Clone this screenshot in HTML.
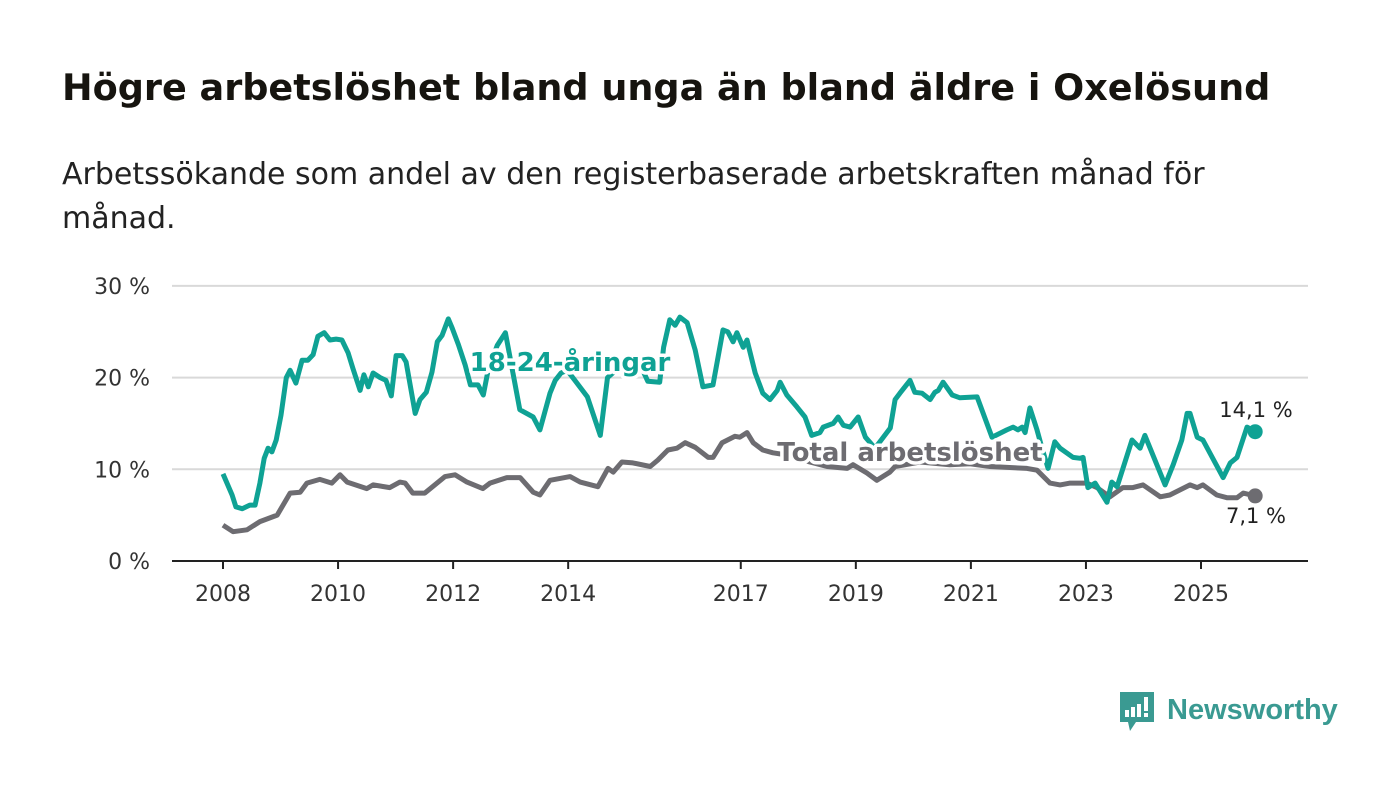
<!DOCTYPE html>
<html><head><meta charset="utf-8"><style>
html,body{margin:0;padding:0;background:#fff;width:1400px;height:794px;overflow:hidden;font-family:"Liberation Sans","DejaVu Sans",sans-serif;}
h1{position:absolute;left:62px;top:66px;margin:0;font-size:36.6px;font-weight:bold;color:#16140f;font-family:"DejaVu Sans","Liberation Sans",sans-serif;}
.sub{position:absolute;left:62px;top:153px;width:1200px;margin:0;font-size:30px;line-height:44px;color:#222;font-family:"DejaVu Sans","Liberation Sans",sans-serif;}
svg{position:absolute;left:0;top:0;}
</style></head><body>
<h1>Högre arbetslöshet bland unga än bland äldre i Oxelösund</h1>
<p class="sub">Arbetssökande som andel av den registerbaserade arbetskraften månad för månad.</p>
<svg id="chart" width="1400" height="794"></svg>
<svg width="1400" height="794">
  <path d="M1120 692 h34 v30 h-18 l-6 9 l-2 -9 h-8 z" fill="#3a9a92"/>
  <rect x="1125" y="710" width="4" height="7" fill="#fff"/><rect x="1131" y="707" width="4" height="10" fill="#fff"/><rect x="1137" y="704" width="4" height="13" fill="#fff"/><rect x="1144" y="697" width="4" height="14" fill="#fff"/><rect x="1144" y="713" width="4" height="4" fill="#fff"/>
  <text x="1167" y="719" font-size="29" font-weight="bold" font-family="Liberation Sans, sans-serif" fill="#3a9a92">Newsworthy</text>
</svg>
<script>
// months since Jan 2008
const youthMonths=[0,1.9,2.7,4.0,5.6,6.7,7.7,8.6,9.4,10.2,11.1,12.1,13.2,14.0,15.2,16.5,17.7,18.8,19.8,21.1,22.3,23.6,24.8,26.1,27.1,28.6,29.4,30.3,31.3,32.8,34.0,35.1,36.1,37.4,38.2,40.1,41.1,42.4,43.6,44.7,45.7,47.0,47.8,49.1,50.5,51.6,53.2,54.3,55.3,57.2,58.9,60.3,61.9,64.7,66.1,68.2,69.3,70.5,71.8,73.4,76.0,78.7,80.2,81.3,84.4,86.5,88.6,91.1,91.9,93.2,94.3,95.3,96.8,98.5,100.1,102.2,104.3,105.3,106.4,107.2,108.5,109.3,111.0,112.6,114.1,115.6,116.2,117.6,119.7,121.4,122.8,124.5,125.2,127.3,128.3,129.4,130.8,132.5,134.0,136.0,139.2,140.2,141.2,143.3,144.3,145.8,147.5,148.5,149.2,150.2,152.1,153.7,157.3,160.4,163.5,164.8,165.8,166.7,167.3,168.3,169.8,171.0,172.1,173.5,174.6,177.3,178.8,179.4,180.4,181.9,184.4,185.4,186.5,189.6,191.3,192.3,196.5,198.2,200.0,201.1,201.7,203.2,204.4,208.6,210.1,211.5,213.6,215.3];
const youthValues=[9.5,7.2,5.9,5.7,6.1,6.1,8.5,11.2,12.3,11.9,13.2,15.9,20.0,20.8,19.4,21.9,21.9,22.5,24.5,24.9,24.1,24.2,24.1,22.7,21.0,18.6,20.3,19.0,20.5,20.0,19.7,18.0,22.4,22.4,21.7,16.1,17.6,18.4,20.6,23.9,24.6,26.4,25.4,23.6,21.4,19.2,19.2,18.1,20.8,23.5,24.9,21.0,16.5,15.7,14.3,18.3,19.7,20.5,20.8,19.7,17.9,13.7,20.0,20.5,21.5,22.0,19.6,19.5,23.3,26.3,25.7,26.6,26.0,23.0,19.0,19.2,25.2,25.0,23.9,24.9,23.3,24.1,20.5,18.3,17.6,18.6,19.5,18.1,16.8,15.7,13.7,14.0,14.6,15.0,15.7,14.8,14.6,15.7,13.5,12.3,14.5,17.6,18.3,19.7,18.4,18.3,17.6,18.4,18.6,19.5,18.1,17.8,17.9,13.5,14.3,14.6,14.3,14.6,14.0,16.7,14.3,12.0,10.1,13.0,12.3,11.3,11.2,11.3,8.0,8.5,6.4,8.6,8.1,13.2,12.3,13.7,8.3,10.5,13.2,16.1,16.1,13.5,13.2,9.1,10.7,11.3,14.6,14.1];
const totalMonths=[0,2.1,5.0,7.7,11.3,14.0,16.1,17.5,20.2,22.7,24.4,25.9,30.0,31.3,34.8,36.9,38.0,39.6,42.1,46.3,48.4,50.9,54.2,55.7,59.2,62.0,64.7,66.1,68.2,72.4,74.5,78.2,80.3,81.4,83.2,85.5,89.1,90.7,92.8,94.7,96.4,98.5,101.2,102.2,104.1,106.8,107.8,109.3,110.6,112.6,114.7,118.3,122.4,126.0,130.2,131.4,134.3,136.4,139.1,140.2,145.4,151.6,155.8,160.0,167.7,169.8,172.5,174.6,176.7,180.2,182.3,185.0,187.7,189.8,191.9,195.5,197.5,201.7,203.2,204.4,207.3,209.4,211.5,212.8,215.3];
const totalValues=[3.9,3.2,3.4,4.3,5.0,7.4,7.5,8.5,8.9,8.5,9.4,8.6,7.9,8.3,8.0,8.6,8.5,7.4,7.4,9.2,9.4,8.6,7.9,8.5,9.1,9.1,7.5,7.2,8.8,9.2,8.6,8.1,10.1,9.7,10.8,10.7,10.3,11.0,12.1,12.3,12.9,12.4,11.3,11.3,12.9,13.6,13.5,14.0,12.9,12.1,11.8,11.5,10.8,10.3,10.1,10.5,9.6,8.8,9.7,10.3,10.8,10.5,10.6,10.3,10.1,9.9,8.5,8.3,8.5,8.5,8.0,7.0,8.0,8.0,8.3,7.0,7.2,8.3,8.0,8.3,7.2,6.9,6.9,7.4,7.1];
const yTicks=[0,10,20,30];
const yTickLabels=["0 %","10 %","20 %","30 %"];
const xTickYears=[2008,2010,2012,2014,2017,2019,2021,2023,2025];
const youthLast="14,1 %", totalLast="7,1 %";

const NS="http://www.w3.org/2000/svg";
const svg=document.getElementById('chart');
const X0=223,PXY=57.53,Y0=561,PXV=9.17;
const xM=m=>X0+m*PXY/12;
const xY=y=>X0+(y-2008)*PXY;
const yV=v=>Y0-v*PXV;
function mk(tag,attrs,parent){const e=document.createElementNS(NS,tag);for(const k in attrs)e.setAttribute(k,attrs[k]);(parent||svg).appendChild(e);return e;}

yTicks.forEach((t,i)=>{
  if(t>0){const g=mk('line',{x1:172,x2:1308,y1:yV(t),y2:yV(t),stroke:'#d9d9d9','stroke-width':2});
  
  }
  const l=mk('text',{x:150,y:yV(t)+8,'text-anchor':'end','font-size':22,fill:'#333','font-family':'DejaVu Sans, Liberation Sans, sans-serif'});
  l.textContent=yTickLabels[i];
  
  
});
const ax=mk('line',{x1:172,x2:1308,y1:Y0,y2:Y0,stroke:'#222','stroke-width':2});


xTickYears.forEach(y=>{
  const tk=mk('line',{x1:xY(y),x2:xY(y),y1:Y0,y2:Y0+8,stroke:'#222','stroke-width':2});
  
  
  const l=mk('text',{x:xY(y),y:601,'text-anchor':'middle','font-size':22,fill:'#333','font-family':'DejaVu Sans, Liberation Sans, sans-serif'});
  l.textContent=y;
  
  
});
function line(ms,vs,color,name){
  const d=ms.map((m,i)=>(i?'L':'M')+xM(m).toFixed(1)+' '+yV(vs[i]).toFixed(1)).join(' ');
  const p=mk('path',{d:d,fill:'none',stroke:color,'stroke-width':5,'stroke-linejoin':'round'});
  
  
  const c=mk('circle',{cx:xM(ms[ms.length-1]),cy:yV(vs[vs.length-1]),r:7.5,fill:color});
  
  
}
line(totalMonths,totalValues,'#6d6c71','total-line');
line(youthMonths,youthValues,'#0fa294','youth-line');
function lab(txt,x,y,color,size,bold,name,anchor){
  const t=mk('text',{x:x,y:y,'text-anchor':anchor||'middle','font-size':size,fill:color,'font-weight':bold?'bold':'normal',stroke:'#fff','stroke-width':bold?7:5,'paint-order':'stroke','stroke-linejoin':'round','font-family':'DejaVu Sans, Liberation Sans, sans-serif'});
  t.textContent=txt;
  
  
}
lab('18-24-åringar',570,371,'#0fa294',26,true,'youth-series-label');
lab('Total arbetslöshet',910,461,'#6d6c71',26,true,'total-series-label');
lab(youthLast,1256,417,'#222',21,false,'youth-last-value');
lab(totalLast,1256,523,'#222',21,false,'total-last-value');
</script>
</body></html>
